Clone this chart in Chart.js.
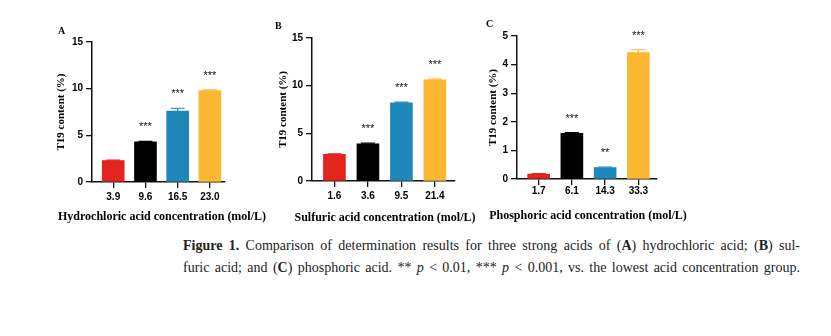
<!DOCTYPE html>
<html><head><meta charset="utf-8">
<script src="https://cdn.jsdelivr.net/npm/chart.js@4/dist/chart.umd.min.js"></script>
<style>
html,body{margin:0;padding:0;background:#fff;width:831px;height:336px;overflow:hidden;position:relative}
canvas{position:absolute}
.lbl{position:absolute;font:bold 10px "Liberation Serif",serif;color:#000}
.xt{position:absolute;font:bold 12px "Liberation Serif",serif;color:#000;white-space:nowrap;transform:translate(-50%,-50%)}
.cap{position:absolute;left:183px;width:617px;font:14px "Liberation Serif",serif;color:#222;text-align:justify;text-align-last:justify;white-space:nowrap}
</style></head><body>
<canvas id="cA" width="200" height="215" style="left:40px;top:15px"></canvas>
<canvas id="cB" width="210" height="225" style="left:258px;top:10px"></canvas>
<canvas id="cC" width="200" height="225" style="left:470px;top:10px"></canvas>
<div class="lbl" style="left:58px;top:25px">A</div>
<div class="lbl" style="left:275px;top:20px">B</div>
<div class="lbl" style="left:486px;top:18px">C</div>
<div class="xt" id="tA" style="left:162px;top:216px"></div>
<div class="xt" id="tB" style="left:385px;top:217px"></div>
<div class="xt" id="tC" style="left:588px;top:215px"></div>
<div class="cap" style="top:238px"><b>Figure 1.</b> Comparison of determination results for three strong acids of (<b>A</b>) hydrochloric acid; (<b>B</b>) sul-</div>
<div class="cap" style="top:260px">furic acid; and (<b>C</b>) phosphoric acid. ** <i>p</i> &lt; 0.01, *** <i>p</i> &lt; 0.001, vs. the lowest acid concentration group.</div>
<script>
// ---- data ----
const colors = ['#e3261d', '#000000', '#1f88bb', '#fbb731'];

const catsA = ['3.9', '9.6', '16.5', '23.0'];
const valsA = [2.3, 4.3, 7.6, 9.8];
const errA = [0.05, 0.05, 0.3, 0.08];
const starsA = ['', '***', '***', '***'];
const yTicksA = [0, 5, 10, 15];

const catsB = ['1.6', '3.6', '9.5', '21.4'];
const valsB = [2.8, 3.9, 8.2, 10.6];
const errB = [0.05, 0.08, 0.08, 0.1];
const starsB = ['', '***', '***', '***'];
const yTicksB = [0, 5, 10, 15];

const catsC = ['1.7', '6.1', '14.3', '33.3'];
const valsC = [0.17, 1.6, 0.4, 4.42];
const errC = [0.02, 0.02, 0.02, 0.1];
const starsC = ['', '***', '**', '***'];
const yTicksC = [0, 1, 2, 3, 4, 5];

const titleA = 'Hydrochloric acid concentration (mol/L)';
const titleB = 'Sulfuric acid concentration (mol/L)';
const titleC = 'Phosphoric acid concentration (mol/L)';
const yTitle = 'T19 content (%)';

document.getElementById('tA').textContent = titleA;
document.getElementById('tB').textContent = titleB;
document.getElementById('tC').textContent = titleC;

const errPlugin = {
  id: 'errStars',
  afterDatasetsDraw(chart, args, opts) {
    const ctx = chart.ctx;
    const meta = chart.getDatasetMeta(0);
    const ys = chart.scales.y;
    ctx.save();
    meta.data.forEach((bar, i) => {
      const v = opts.vals[i], e = opts.err[i];
      const yTop = ys.getPixelForValue(v + e);
      const yB = ys.getPixelForValue(v);
      ctx.strokeStyle = colors[i];
      ctx.lineWidth = 1.2;
      ctx.beginPath();
      ctx.moveTo(bar.x, yB); ctx.lineTo(bar.x, yTop);
      ctx.moveTo(bar.x - 7, yTop); ctx.lineTo(bar.x + 7, yTop);
      ctx.stroke();
      if (opts.stars[i]) {
        ctx.fillStyle = '#111';
        ctx.font = '11px "Liberation Sans", Arial, sans-serif';
        ctx.textAlign = 'center';
        ctx.textBaseline = 'alphabetic';
        ctx.fillText(opts.stars[i], bar.x, yTop - 11);
      }
    });
    ctx.restore();
  }
};

function makeChart(id, cats, vals, err, stars, yTicks, L) {
  const ymax = yTicks[yTicks.length - 1];
  const step = yTicks[1] - yTicks[0];
  new Chart(document.getElementById(id), {
    type: 'bar',
    data: {
      datasets: [{
        data: vals.map((v, i) => ({ x: i, y: v })),
        backgroundColor: colors,
        borderWidth: 0,
        barThickness: 22
      }]
    },
    plugins: [errPlugin],
    options: {
      responsive: false,
      animation: false,
      devicePixelRatio: 1,
      layout: { padding: { left: L.padL, top: L.padT, right: L.padR, bottom: L.padB } },
      plugins: {
        legend: { display: false }, tooltip: { enabled: false },
        errStars: { vals, err, stars }
      },
      scales: {
        x: {
          type: 'linear', min: L.xmin, max: L.xmax, offset: false,
          afterBuildTicks: s => { s.ticks = cats.map((c, i) => ({ value: i })); },
          afterFit: s => { s.height = L.xh; },
          ticks: {
            callback: (v) => cats[v] !== undefined ? cats[v] : '',
            color: '#000', padding: L.xtp,
            font: { family: '"Liberation Sans", Arial, sans-serif', size: 10, weight: 'bold' },
            maxRotation: 0, autoSkip: false
          },
          grid: { display: true, offset: false, drawOnChartArea: false, drawTicks: true, tickLength: 6, color: '#111', lineWidth: 1.3 },
          border: { display: true, color: '#111', width: 1.5 },
          title: { display: false }
        },
        y: {
          min: 0, max: ymax,
          afterBuildTicks: s => { s.ticks = yTicks.map(v => ({ value: v })); },
          afterFit: s => { s.width = L.yw; },
          ticks: {
            stepSize: step, color: '#000', padding: 3,
            font: { family: '"Liberation Sans", Arial, sans-serif', size: 10, weight: 'bold' }
          },
          grid: { display: true, drawOnChartArea: false, drawTicks: true, tickLength: 6, color: '#111', lineWidth: 1.3 },
          border: { display: true, color: '#111', width: 1.5 },
          title: { display: true, text: yTitle, color: '#000',
            font: { family: '"Liberation Serif", "Times New Roman", serif', size: 11, weight: 'bold' } }
        }
      }
    }
  });
}

makeChart('cA', catsA, valsA, errA, starsA, yTicksA,
  { padL: 11, padT: 27, padR: 15, padB: 5, yw: 41, xh: 43, xmin: -0.66, xmax: 3.47, xtp: 3 });
makeChart('cB', catsB, valsB, errB, starsB, yTicksB,
  { padL: 15, padT: 28, padR: 13, padB: 7, yw: 39, xh: 47, xmin: -0.67, xmax: 3.6, xtp: 3 });
makeChart('cC', catsC, valsC, errC, starsC, yTicksC,
  { padL: 13, padT: 26, padR: 13, padB: 9, yw: 34, xh: 47, xmin: -0.65, xmax: 3.56, xtp: 0 });
</script>
</body></html>
